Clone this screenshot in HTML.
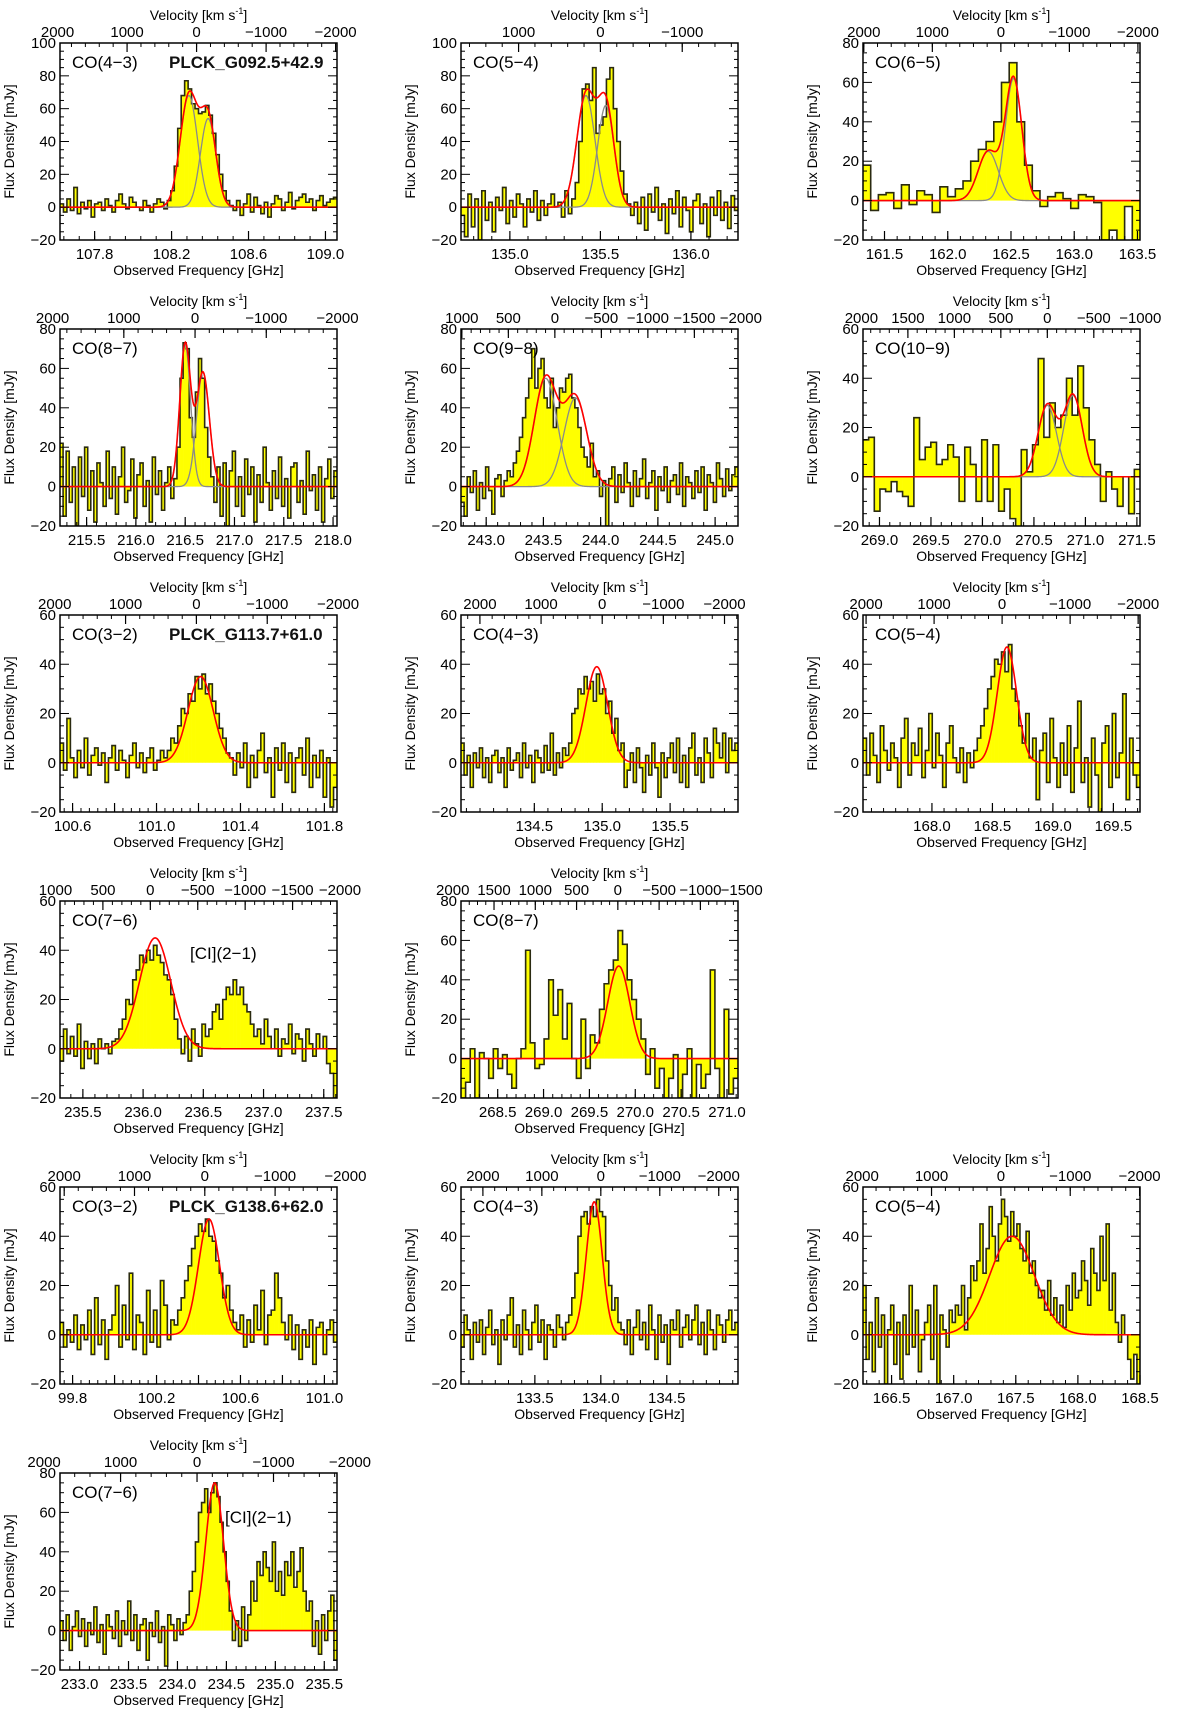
<!DOCTYPE html>
<html><head><meta charset="utf-8"><style>
body{margin:0;background:#fff}
svg{display:block;font-family:"Liberation Sans",sans-serif}
</style></head><body>
<svg id="fig" width="1200" height="1711" viewBox="0 0 1200 1711" xmlns="http://www.w3.org/2000/svg"></svg>
<script>
// ---- data arrays (flux densities in mJy per channel) ----
const p1Flux=[2,-3,5,-2,12,-4,3,-1,4,-6,2,3,-2,5,1,-3,4,8,2,-1,6,3,0,-2,4,1,-3,2,5,3,-1,4,10,25,48,68,77,72,63,60,57,58,62,56,45,32,20,10,4,1,-2,4,-5,2,8,-3,6,1,-4,3,-6,2,7,5,-2,3,9,-1,4,6,8,3,5,-2,4,7,1,3,5,6];
const p2Flux=[-5,-18,8,-12,5,-20,10,-8,3,-15,6,-2,12,-10,4,-6,8,2,-12,5,-3,10,-8,4,-5,2,8,0,3,-6,10,-4,5,15,40,72,75,65,85,45,50,55,78,85,60,40,22,8,2,-5,3,-10,6,-14,8,-3,12,-8,2,-16,5,-4,10,-12,6,-2,-15,4,8,-10,2,-18,6,-5,10,-8,3,-13,7,-2];
const p3Flux=[18,-5,3,4,-4,8,-2,5,3,-6,7,2,6,10,20,26,30,40,60,70,40,18,5,-3,2,4,1,-4,3,2,-1,-20,-15,-25,-3,-20];
const p4Flux=[22,-15,18,-8,10,-20,15,-5,20,-12,8,-18,12,2,-10,18,-6,10,-14,5,20,-8,-2,14,-16,6,12,-10,3,-18,15,-4,8,-12,2,10,-6,4,20,55,73,70,35,25,48,65,55,30,15,5,-8,10,-15,12,-20,8,18,-10,5,-15,14,-4,10,-18,6,-8,20,2,-12,8,-6,15,-10,4,-16,10,12,-8,3,-14,18,-2,6,-12,10,-18,4,14,-6,8];
const p5Flux=[-8,-15,5,-3,8,-12,2,-6,10,-2,-14,4,6,-5,3,8,5,12,18,25,35,45,55,70,50,60,65,45,40,55,30,40,50,48,55,57,45,40,30,20,15,10,22,5,8,-5,3,-20,4,10,-8,6,-3,12,2,-10,8,-5,4,14,-6,2,8,-12,5,-2,10,-8,3,6,-4,12,-10,5,2,-6,8,-3,10,-12,6,2,-8,12,4,-5,9,-2,6,10];
const p6Flux=[15,16,-14,-5,-6,-2,-6,-8,-12,24,7,12,14,5,7,13,8,-10,12,5,-10,15,-10,13,-14,-5,-17,-25,11,2,13,48,16,30,20,25,40,25,45,28,15,5,-10,2,-5,-12,0,-15,3];
const p7Flux=[8,-3,18,2,-6,5,-2,10,-5,3,6,-1,4,-8,2,7,-3,5,1,-6,3,8,-2,4,-4,2,6,-3,1,5,2,5,10,8,15,22,20,28,25,35,30,36,28,32,25,20,14,10,4,2,-5,4,-2,8,-10,3,-6,5,12,-4,2,-14,6,-3,8,-8,4,-12,2,6,-5,10,-10,3,-6,5,-14,2,-18,-10];
const p8Flux=[8,-5,3,-10,4,-2,6,-6,2,-8,3,5,-4,2,-10,6,-3,1,4,-6,8,-2,3,-8,5,2,-4,7,-3,12,-5,4,-2,6,3,8,20,22,30,28,35,30,33,25,36,28,30,20,25,12,18,5,8,-10,-3,4,-8,6,-2,-12,3,-5,8,-2,-14,4,-6,2,8,-4,10,-8,3,-10,6,12,-5,2,-8,10,4,-6,14,8,2,12,-4,10,5,8];
const p9Flux=[10,-5,12,3,-8,15,5,-3,8,2,-10,10,18,-5,8,3,14,-6,5,20,-2,12,3,-10,8,15,2,-4,6,-8,4,-2,5,10,15,22,30,35,42,40,45,37,48,30,25,15,8,20,2,10,-15,5,12,-8,18,2,-10,8,-5,15,-12,6,25,-8,2,-18,10,-5,-20,8,15,-10,20,-6,4,28,-15,10,-5,-10];
const p10Flux=[-5,8,-2,5,-3,10,-8,3,-4,2,-6,4,0,2,-2,3,4,8,12,20,18,28,32,38,35,40,36,42,38,35,30,28,22,12,4,-2,5,-5,8,2,-3,10,5,8,15,18,12,20,25,22,28,22,25,18,15,10,5,8,2,12,5,0,8,-3,4,2,10,-2,6,4,-5,8,2,-3,6,0,5,-6,-10,-20];
const p11Flux=[-20,-12,5,-20,3,0,-10,5,-5,2,-8,-15,0,5,55,8,-5,-3,10,40,22,35,10,28,0,-10,20,-5,12,8,25,38,45,50,65,58,40,30,20,10,-8,5,-15,-5,-20,-10,2,-20,-8,5,-20,-3,-15,-8,45,-5,-20,25,-18,-10];
const p12Flux=[5,-5,2,-3,8,-6,4,-2,10,-8,15,-4,6,-10,2,8,20,-5,12,-2,25,-6,8,5,-8,18,-3,10,-5,22,12,-2,6,4,10,15,22,28,35,40,45,42,47,40,38,30,25,15,20,10,5,2,8,-5,6,-3,12,2,18,-4,8,10,25,15,5,-2,8,-6,4,-10,2,-5,6,-12,3,5,-8,2,6,-3];
const p13Flux=[-5,8,2,-10,5,-3,6,-8,3,10,-4,2,-12,6,-2,8,15,-5,4,-8,10,2,-6,5,12,-3,6,-10,4,2,-5,8,3,-2,5,8,15,25,40,48,50,45,52,48,55,50,48,30,20,10,15,5,2,-4,6,-8,3,10,-2,5,-6,12,2,-10,8,-3,4,-12,6,2,10,-5,3,8,-2,6,12,-4,5,-8,10,2,-6,8,4,-3,6,10,2,5];
const p14Flux=[20,-10,5,-15,15,-5,8,-20,2,12,-12,5,-18,8,-8,20,-5,10,-15,-2,5,12,-10,20,-20,8,2,-5,10,5,12,8,20,2,15,28,22,30,45,25,35,52,40,30,45,55,48,38,50,40,45,35,30,42,25,30,20,15,18,10,22,8,15,5,12,3,20,10,25,15,18,30,22,12,35,25,18,40,22,45,10,25,5,-3,8,0,-10,-18,-8,-20];
const p15Flux=[5,-5,8,-10,2,10,-3,6,-8,4,-2,12,-6,3,-12,8,2,-4,10,-8,5,-2,15,-5,8,-10,3,6,-15,4,-3,10,-6,2,-18,8,3,-5,6,-2,4,8,20,30,45,60,65,72,60,70,75,68,55,40,25,10,-5,5,-8,12,-5,8,25,15,35,28,40,32,25,45,20,30,18,35,28,40,22,30,42,20,10,15,-8,5,-12,8,-5,10,18,-15];
// gaussian fit components: centers (GHz), amplitudes (mJy), sigmas (GHz)
const p1Centers=[108.29,108.39], p1Amps=[68,54], p1Sigmas=[0.045,0.04];
const p2Centers=[135.42,135.53], p2Amps=[68,62], p2Sigmas=[0.05,0.045];
const p3Centers=[162.32,162.52], p3Amps=[25,62], p3Sigmas=[0.08,0.065];
const p4Centers=[216.50,216.68], p4Amps=[72,58], p4Sigmas=[0.055,0.065];
const p5Centers=[243.52,243.78], p5Amps=[55,45], p5Sigmas=[0.1,0.1];
const p6Centers=[270.63,270.88], p6Amps=[29,33], p6Sigmas=[0.09,0.09];
const p7Centers=[101.21], p7Amps=[35], p7Sigmas=[0.06];
const p8Centers=[134.96], p8Amps=[39], p8Sigmas=[0.08];
const p9Centers=[168.62], p9Amps=[47], p9Sigmas=[0.08];
const p10Centers=[236.10], p10Amps=[45], p10Sigmas=[0.13];
const p11Centers=[269.82], p11Amps=[47], p11Sigmas=[0.12];
const p12Centers=[100.45], p12Amps=[47], p12Sigmas=[0.05];
const p13Centers=[133.95], p13Amps=[54], p13Sigmas=[0.06];
const p14Centers=[167.47], p14Amps=[40], p14Sigmas=[0.18];
const p15Centers=[234.38], p15Amps=[75], p15Sigmas=[0.09];
// axis tick labels
const vStd=[2000,1000,0,-1000,-2000];
const vFine=[1000,500,0,-500,-1000,-1500,-2000];
const vHigh=[2000,1500,1000,500,0,-500,-1000];
const vHigh2=[2000,1500,1000,500,0,-500,-1000,-1500];

const NS="http://www.w3.org/2000/svg";
const svg=document.getElementById('fig');
const C=299792.458;
function mk(tag,attrs,parent){const e=document.createElementNS(NS,tag);for(const k in attrs)e.setAttribute(k,attrs[k]);(parent||svg).appendChild(e);return e;}
function fmt(v,d){let s=v.toFixed(d);return s.replace('-','\u2212');}

const panels=[
 {c:0,r:0,x0:107.62,x1:109.06,y0:-20,y1:100,xt:[107.8,108.2,108.6,109.0],xd:1,f0:108.33,vt:vStd,flux:p1Flux,cen:p1Centers,amp:p1Amps,sig:p1Sigmas,label:'CO(4\u22123)',src:'PLCK_G092.5+42.9'},
 {c:1,r:0,x0:134.73,x1:136.26,y0:-20,y1:100,xt:[135.0,135.5,136.0],xd:1,f0:135.5,vt:vStd,flux:p2Flux,cen:p2Centers,amp:p2Amps,sig:p2Sigmas,label:'CO(5\u22124)'},
 {c:2,r:0,x0:161.33,x1:163.52,y0:-20,y1:80,xt:[161.5,162.0,162.5,163.0,163.5],xd:1,f0:162.42,vt:vStd,flux:p3Flux,cen:p3Centers,amp:p3Amps,sig:p3Sigmas,label:'CO(6\u22125)'},
 {c:0,r:1,x0:215.23,x1:218.04,y0:-20,y1:80,xt:[215.5,216.0,216.5,217.0,217.5,218.0],xd:1,f0:216.6,vt:vStd,flux:p4Flux,cen:p4Centers,amp:p4Amps,sig:p4Sigmas,label:'CO(8\u22127)'},
 {c:1,r:1,x0:242.78,x1:245.2,y0:-20,y1:80,xt:[243.0,243.5,244.0,244.5,245.0],xd:1,f0:243.6,vt:vFine,flux:p5Flux,cen:p5Centers,amp:p5Amps,sig:p5Sigmas,label:'CO(9\u22128)'},
 {c:2,r:1,x0:268.84,x1:271.53,y0:-20,y1:60,xt:[269.0,269.5,270.0,270.5,271.0,271.5],xd:1,f0:270.63,vt:vHigh,flux:p6Flux,cen:p6Centers,amp:p6Amps,sig:p6Sigmas,label:'CO(10\u22129)'},
 {c:0,r:2,x0:100.54,x1:101.86,y0:-20,y1:60,xt:[100.6,100.8,101.0,101.2,101.4,101.6,101.8],xl:[100.6,101.0,101.4,101.8],xd:1,f0:101.19,vt:vStd,flux:p7Flux,cen:p7Centers,amp:p7Amps,sig:p7Sigmas,label:'CO(3\u22122)',src:'PLCK_G113.7+61.0'},
 {c:1,r:2,x0:133.96,x1:136.0,y0:-20,y1:60,xt:[134.5,135.0,135.5],xd:1,f0:135.0,vt:vStd,flux:p8Flux,cen:p8Centers,amp:p8Amps,sig:p8Sigmas,label:'CO(4\u22123)'},
 {c:2,r:2,x0:167.43,x1:169.72,y0:-20,y1:60,xt:[168.0,168.5,169.0,169.5],xd:1,f0:168.58,vt:vStd,flux:p9Flux,cen:p9Centers,amp:p9Amps,sig:p9Sigmas,label:'CO(5\u22124)'},
 {c:0,r:3,x0:235.31,x1:237.61,y0:-20,y1:60,xt:[235.5,236.0,236.5,237.0,237.5],xd:1,f0:236.06,vt:vFine,flux:p10Flux,cen:p10Centers,amp:p10Amps,sig:p10Sigmas,label:'CO(7\u22126)',ci:[130,58]},
 {c:1,r:3,x0:268.1,x1:271.12,y0:-20,y1:80,xt:[268.5,269.0,269.5,270.0,270.5,271.0],xd:1,f0:269.81,vt:vHigh2,flux:p11Flux,cen:p11Centers,amp:p11Amps,sig:p11Sigmas,label:'CO(8\u22127)'},
 {c:0,r:4,x0:99.74,x1:101.06,y0:-20,y1:60,xt:[99.8,100.0,100.2,100.4,100.6,100.8,101.0],xl:[99.8,100.2,100.6,101.0],xd:1,f0:100.43,vt:vStd,flux:p12Flux,cen:p12Centers,amp:p12Amps,sig:p12Sigmas,label:'CO(3\u22122)',src:'PLCK_G138.6+62.0'},
 {c:1,r:4,x0:132.94,x1:135.04,y0:-20,y1:60,xt:[133.5,134.0,134.5],xd:1,f0:134.0,vt:vStd,flux:p13Flux,cen:p13Centers,amp:p13Amps,sig:p13Sigmas,label:'CO(4\u22123)'},
 {c:2,r:4,x0:166.27,x1:168.5,y0:-20,y1:60,xt:[166.5,167.0,167.5,168.0,168.5],xd:1,f0:167.38,vt:vStd,flux:p14Flux,cen:p14Centers,amp:p14Amps,sig:p14Sigmas,label:'CO(5\u22124)'},
 {c:0,r:5,x0:232.8,x1:235.63,y0:-20,y1:80,xt:[233.0,233.5,234.0,234.5,235.0,235.5],xd:1,f0:234.2,vt:vStd,flux:p15Flux,cen:p15Centers,amp:p15Amps,sig:p15Sigmas,label:'CO(7\u22126)',ci:[165,50]}
];

const W=277,H=197;
panels.forEach((p,pi)=>{
 const L=[60,461,863][p.c], T=43+286*p.r, R=L+W, B=T+H;
 const g=mk('g',{});
 
 
 const X=f=>L+(f-p.x0)/(p.x1-p.x0)*W;
 const Y=v=>T+(p.y1-v)/(p.y1-p.y0)*H;
 const cid='clip'+pi;
 const cp=mk('clipPath',{id:cid},g); mk('rect',{x:L,y:T,width:W,height:H},cp);
 const inner=mk('g',{'clip-path':'url(#'+cid+')'},g);
 const n=p.flux.length, bw=(p.x1-p.x0)/n;
 p.flux.forEach((v,i)=>{
  const xa=X(p.x0+i*bw), xb=X(p.x0+(i+1)*bw);
  const r=mk('rect',{x:xa,y:Math.min(Y(v),Y(0)),width:xb-xa+0.3,height:Math.abs(Y(v)-Y(0)),fill:'#ffff00'},inner);
  
  
 });
 let d='M'+X(p.x0)+','+Y(p.flux[0]);
 p.flux.forEach((v,i)=>{ if(i>0) d+=' V'+Y(v); d+=' H'+X(p.x0+(i+1)*bw); });
 const st=mk('path',{d:d,fill:'none',stroke:'#2a2a10','stroke-width':1.6},inner);
 
 
 const N=400;
 if(p.cen.length>1){
  p.cen.forEach((c,k)=>{
   let dd='';
   for(let j=0;j<=N;j++){const f=p.x0+(p.x1-p.x0)*j/N;const v=p.amp[k]*Math.exp(-0.5*((f-c)/p.sig[k])**2);dd+=(j?' L':'M')+X(f).toFixed(2)+','+Y(v).toFixed(2);}
   const gc=mk('path',{d:dd,fill:'none',stroke:'#8a8a8a','stroke-width':1.3},inner);
   
   
  });
 }
 let dd='';
 for(let j=0;j<=N;j++){const f=p.x0+(p.x1-p.x0)*j/N;let v=0;p.cen.forEach((c,k)=>{v+=p.amp[k]*Math.exp(-0.5*((f-c)/p.sig[k])**2);});dd+=(j?' L':'M')+X(f).toFixed(2)+','+Y(v).toFixed(2);}
 const fit=mk('path',{d:dd,fill:'none',stroke:'#ff0000','stroke-width':1.6},inner);
 
 
 const fr=mk('rect',{x:L,y:T,width:W,height:H,fill:'none',stroke:'#000','stroke-width':1.5},g);
 
 
 const xs=p.xt[1]-p.xt[0];
 const minorStep=xs/5;
 for(let f=p.xt[0]-Math.ceil((p.xt[0]-p.x0)/minorStep)*minorStep;f<=p.x1+1e-9;f+=minorStep){
  if(f<p.x0-1e-9)continue;
  mk('line',{x1:X(f),x2:X(f),y1:B,y2:B-4,stroke:'#000','stroke-width':1},g);
 }
 p.xt.forEach(f=>{
  mk('line',{x1:X(f),x2:X(f),y1:B,y2:B-9,stroke:'#000','stroke-width':1.2},g);
 });
 (p.xl||p.xt).forEach(f=>{
  const t=mk('text',{x:X(f),y:B+19,'font-size':15,'text-anchor':'middle'},g);t.textContent=fmt(f,p.xd);
  
  
 });
 for(let v=p.y0;v<=p.y1+1e-9;v+=5){
  const maj=(v%20===0);
  mk('line',{x1:L,x2:L+(maj?9:4),y1:Y(v),y2:Y(v),stroke:'#000','stroke-width':1},g);
  mk('line',{x1:R,x2:R-(maj?9:4),y1:Y(v),y2:Y(v),stroke:'#000','stroke-width':1},g);
  if(maj){const t=mk('text',{x:L-4,y:Y(v)+5,'font-size':15,'text-anchor':'end'},g);t.textContent=fmt(v,0);
   
   }
 }
 const VX=v=>X(p.f0*(1-v/C));
 const vs=Math.abs(p.vt[1]-p.vt[0])/5;
 for(let v=-3000;v<=3000;v+=vs){const x=VX(v);if(x<L||x>R)continue;mk('line',{x1:x,x2:x,y1:T,y2:T+4,stroke:'#000','stroke-width':1},g);}
 p.vt.forEach(v=>{const x=VX(v);if(x<L-20||x>R+20)return;
  if(x>=L&&x<=R) mk('line',{x1:x,x2:x,y1:T,y2:T+9,stroke:'#000','stroke-width':1.2},g);
  const t=mk('text',{x:x,y:T-6,'font-size':15,'text-anchor':'middle'},g);t.textContent=fmt(v,0);
  
  });
 const vt=mk('text',{x:L+W/2,y:T-23,'font-size':14,'text-anchor':'middle'},g);
 vt.innerHTML='Velocity [km s<tspan font-size="9" dy="-6">-1</tspan><tspan dy="6">]</tspan>';
 
 
 const xt=mk('text',{x:L+W/2,y:B+35,'font-size':14,'text-anchor':'middle'},g);xt.textContent='Observed Frequency [GHz]';
 
 
 const yt=mk('text',{x:0,y:0,'font-size':14,'text-anchor':'middle',transform:`translate(${L-46},${T+H/2}) rotate(-90)`},g);yt.textContent='Flux Density [mJy]';
 
 
 const lb=mk('text',{x:L+12,y:T+25,'font-size':17},g);lb.textContent=p.label;
 
 
 if(p.src){const s=mk('text',{x:L+109,y:T+25,'font-size':17,'font-weight':'bold','fill':'#111'},g);s.textContent=p.src;
  
  }
 if(p.ci){const s=mk('text',{x:L+p.ci[0],y:T+p.ci[1],'font-size':17},g);s.textContent='[CI](2\u22121)';
  
  }
});
</script>
</body></html>
